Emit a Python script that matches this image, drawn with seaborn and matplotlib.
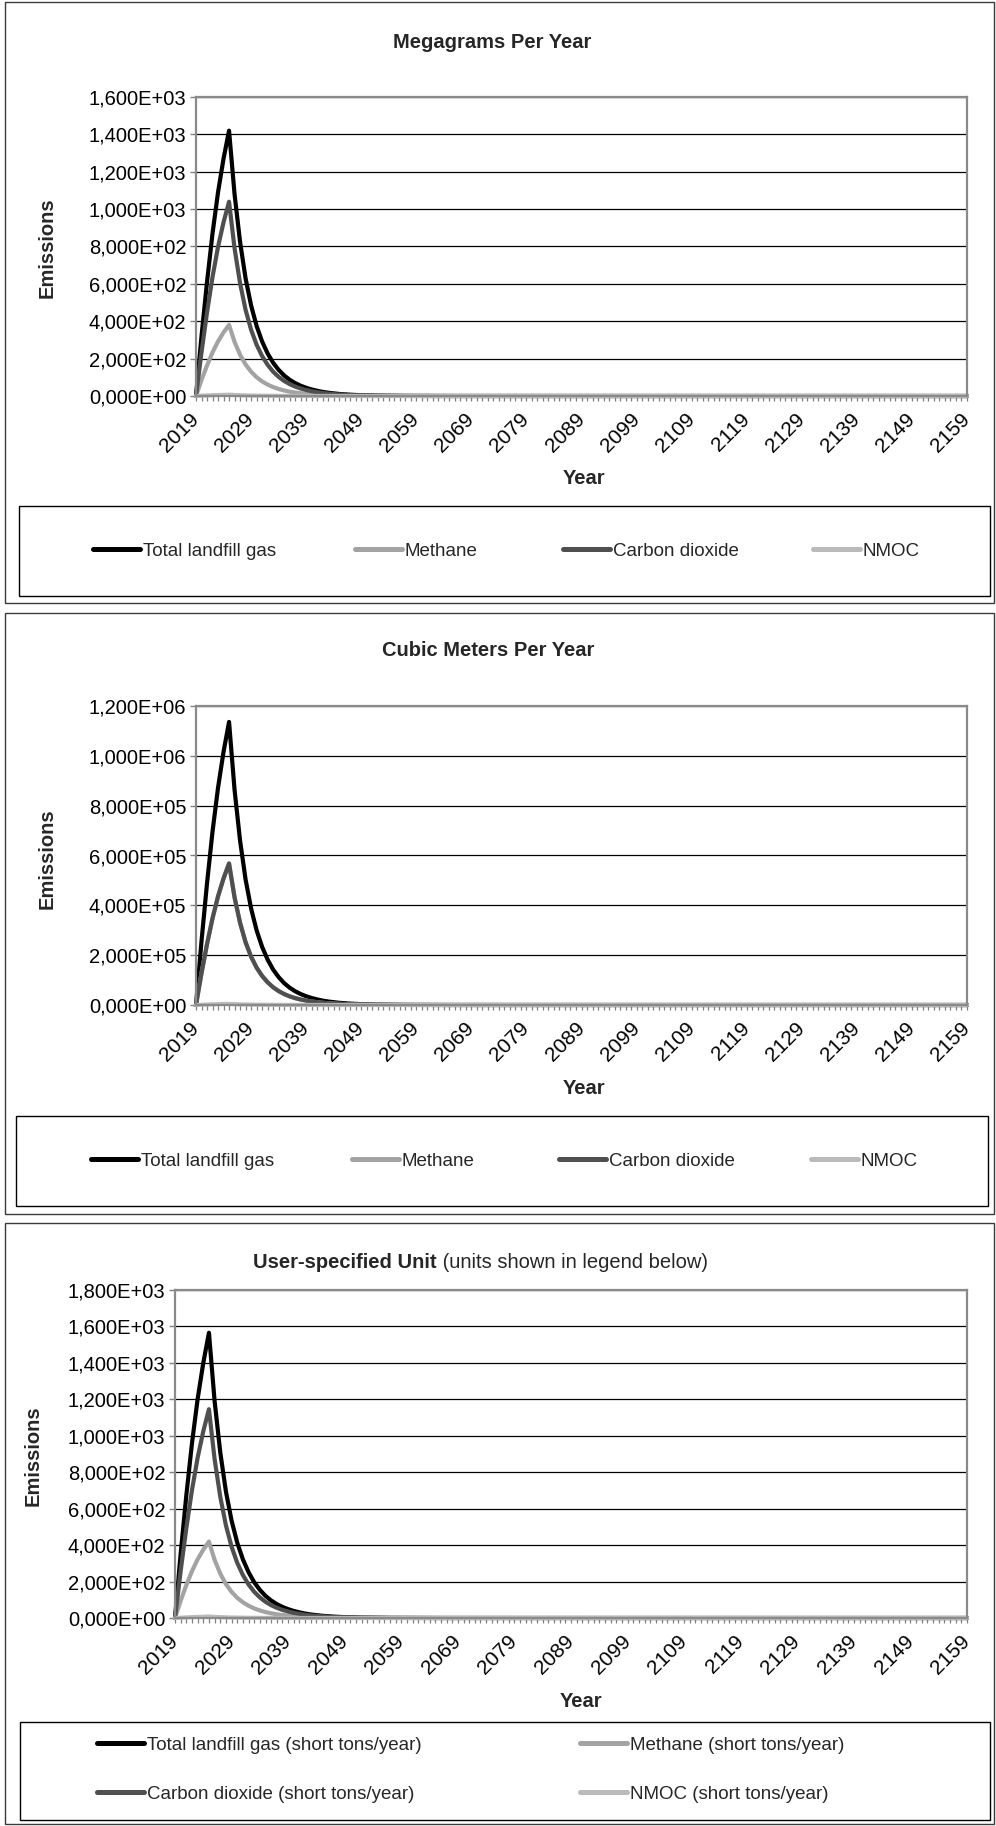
import numpy as np
import pandas as pd
import matplotlib
matplotlib.use("Agg")
import matplotlib.pyplot as plt
from matplotlib.lines import Line2D
from matplotlib.patches import Rectangle
from matplotlib.ticker import FuncFormatter, MultipleLocator
import seaborn as sns

sns.set_theme(style="white")
plt.rcParams["font.family"] = ["Liberation Sans", "DejaVu Sans"]

# ---------------------------------------------------------------- data
YEARS = list(range(2019, 2160))

# Total landfill gas, megagrams per year (2019 .. 2159)
TOTAL_MG = [
    0, 320, 610, 870, 1090, 1270, 1420, 1080, 825, 630,
    485, 375, 292, 228, 178, 140, 110, 87, 69, 55,
    44, 35, 28, 22, 17.5, 14, 11, 8.7, 6.9, 5.4,
    4.3, 3.4, 2.7, 2.1, 1.7, 1.3, 1.05, 0.83, 0.65, 0.52,
    0.41, 0.32, 0.25, 0.2, 0.16, 0.13, 0.1, 0.08, 0.06, 0.05,
    0.04, 0.03, 0.02, 0.02, 0.01, 0.01, 0, 0, 0, 0,
    0, 0, 0, 0, 0, 0, 0, 0, 0, 0,
    0, 0, 0, 0, 0, 0, 0, 0, 0, 0,
    0, 0, 0, 0, 0, 0, 0, 0, 0, 0,
    0, 0, 0, 0, 0, 0, 0, 0, 0, 0,
    0, 0, 0, 0, 0, 0, 0, 0, 0, 0,
    0, 0, 0, 0, 0, 0, 0, 0, 0, 0,
    0, 0, 0, 0, 0, 0, 0, 0, 0, 0,
    0, 0, 0, 0, 0, 0, 0, 0, 0, 0,
    0,
]

# composition of the gas by mass and by volume, and unit conversions
MASS_SHARE = {"Total landfill gas": 1.0, "Methane": 0.268,
              "Carbon dioxide": 0.732, "NMOC": 0.005}
VOLUME_SHARE = {"Total landfill gas": 1.0, "Methane": 0.5,
                "Carbon dioxide": 0.5, "NMOC": 0.004}
M3_PER_MG = 800.0
SHORT_TONS_PER_MG = 1.10231

GASES = ["Total landfill gas", "Methane", "Carbon dioxide", "NMOC"]
COLORS = {"Total landfill gas": "#000000", "Methane": "#a3a3a3",
          "Carbon dioxide": "#4f4f4f", "NMOC": "#bababa"}

PANEL_TITLES = ["Megagrams Per Year", "Cubic Meters Per Year"]
Y_MAX = [1600, 1.2e6, 1800]
Y_STEP = [200, 2e5, 200]
X_TICKS = list(range(2019, 2160, 10))

W, H = 996, 1826


def frame(values, shares, factor):
    rows = []
    for gas in GASES:
        for yr, v in zip(YEARS, values):
            rows.append({"Year": yr, "Gas": gas,
                         "Emissions": v * shares[gas] * factor})
    return pd.DataFrame(rows)


def sci_comma(v, pos):
    if v == 0:
        return "0,000E+00"
    e = int(np.floor(np.log10(abs(v)) + 1e-9))
    m = v / 10 ** e
    return f"{m:.3f}".replace(".", ",") + f"E{e:+03d}"


def fx(x):
    return x / W


def fy(y):
    return 1 - y / H


fig = plt.figure(figsize=(W / 100, H / 100), dpi=100)
fig.patch.set_facecolor("white")

data_frames = [
    frame(TOTAL_MG, MASS_SHARE, 1.0),
    frame(TOTAL_MG, VOLUME_SHARE, M3_PER_MG),
    frame(TOTAL_MG, MASS_SHARE, SHORT_TONS_PER_MG),
]

# axes rectangles in pixels: left, top, right, bottom
AX_BOX = [(196, 97, 967, 396), (196, 706, 967, 1005), (175, 1290, 967, 1618)]

axes = []
for i, (df, box) in enumerate(zip(data_frames, AX_BOX)):
    l, t, r, b = box
    ax = fig.add_axes([fx(l), fy(b), (r - l) / W, (b - t) / H])
    sns.lineplot(data=df, x="Year", y="Emissions", hue="Gas",
                 hue_order=GASES, palette=COLORS, linewidth=3.0,
                 estimator=None, errorbar=None, legend=False, ax=ax,
                 solid_joinstyle="round", solid_capstyle="round")
    for ln in ax.lines:
        ln.set_clip_on(False)
    ax.set_xlim(2019, 2159)
    ax.set_ylim(0, Y_MAX[i])
    ax.set_yticks(np.arange(0, Y_MAX[i] + 1, Y_STEP[i]))
    ax.yaxis.set_major_formatter(FuncFormatter(sci_comma))
    ax.set_xticks(X_TICKS)
    ax.xaxis.set_minor_locator(MultipleLocator(1))
    ax.set_xlabel("")
    ax.set_ylabel("")
    ax.yaxis.grid(True, color="#000000", linewidth=0.9)
    ax.xaxis.grid(False)
    ax.set_axisbelow(True)
    for sp in ax.spines.values():
        sp.set_visible(True)
        sp.set_color("#8a8a8a")
        sp.set_linewidth(1.6)
    ax.tick_params(axis="y", which="major", left=True, length=4,
                   width=1, color="#808080", labelsize=14.5, pad=3,
                   labelcolor="black")
    ax.tick_params(axis="x", which="both", bottom=True, direction="out",
                   length=3.5, width=0.9, color="#808080")
    ax.tick_params(axis="x", which="major", labelsize=15, pad=11,
                   labelcolor="black")
    for lab in ax.get_xticklabels():
        lab.set_rotation(45)
        lab.set_ha("right")
        lab.set_va("center")
        lab.set_rotation_mode("anchor")
    axes.append(ax)

# panel frames and legend frames
for (x0, y0, x1, y1) in [(5, 2, 994, 603), (5, 613, 994, 1214),
                         (5, 1223, 994, 1824)]:
    fig.add_artist(Rectangle((fx(x0), fy(y1)), (x1 - x0) / W, (y1 - y0) / H,
                             transform=fig.transFigure, fill=False,
                             edgecolor="#3a3a3a", linewidth=1.0))
for (x0, y0, x1, y1) in [(19, 506, 990, 596), (16, 1116, 988, 1206),
                         (20, 1722, 990, 1820)]:
    fig.add_artist(Rectangle((fx(x0), fy(y1)), (x1 - x0) / W, (y1 - y0) / H,
                             transform=fig.transFigure, fill=False,
                             edgecolor="#000000", linewidth=1.0))

# titles
fig.text(fx(492), fy(42), PANEL_TITLES[0], ha="center", va="center",
         fontsize=14.5, fontweight="bold")
fig.text(fx(488), fy(651), PANEL_TITLES[1], ha="center", va="center",
         fontsize=14.5, fontweight="bold")

bold_part = fig.text(0, fy(1262), "User-specified Unit", ha="left",
                     va="center", fontsize=14.5, fontweight="bold")
rest_part = fig.text(0, fy(1262), " (units shown in legend below)",
                     ha="left", va="center", fontsize=14.5)
fig.canvas.draw()
rdr = fig.canvas.get_renderer()
w_bold = bold_part.get_window_extent(rdr).width
w_rest = rest_part.get_window_extent(rdr).width
x_start = 480.5 - (w_bold + w_rest) / 2
bold_part.set_x(fx(x_start))
rest_part.set_x(fx(x_start + w_bold))

# axis titles
for (x, y) in [(47, 248), (47, 859), (33, 1456)]:
    fig.text(fx(x), fy(y), "Emissions", rotation=90, ha="center",
             va="center", fontsize=14.5, fontweight="bold")
for (x, y) in [(584, 478), (584, 1088), (581, 1701)]:
    fig.text(fx(x), fy(y), "Year", ha="center", va="center",
             fontsize=14.5, fontweight="bold")


# legends
def legend_entry(x, y, gas, label):
    handle = Line2D([], [], color=COLORS[gas], linewidth=3.6,
                    solid_capstyle="round")
    fig.legend(handles=[handle], labels=[label], loc="center left",
               bbox_to_anchor=(fx(x), fy(y)), frameon=False, borderpad=0,
               borderaxespad=0, handlelength=2.5, handletextpad=0.15,
               fontsize=13.5)


for gas, x in zip(GASES, [93, 355, 563, 813]):
    legend_entry(x, 551, gas, gas)
for gas, x in zip(GASES, [91, 352, 559, 811]):
    legend_entry(x, 1161, gas, gas)
for gas, (x, y) in zip(GASES, [(97, 1745), (580, 1745),
                               (97, 1794), (580, 1794)]):
    legend_entry(x, y, gas, f"{gas} (short tons/year)")

fig.savefig("out.png", dpi=100, facecolor="white")
